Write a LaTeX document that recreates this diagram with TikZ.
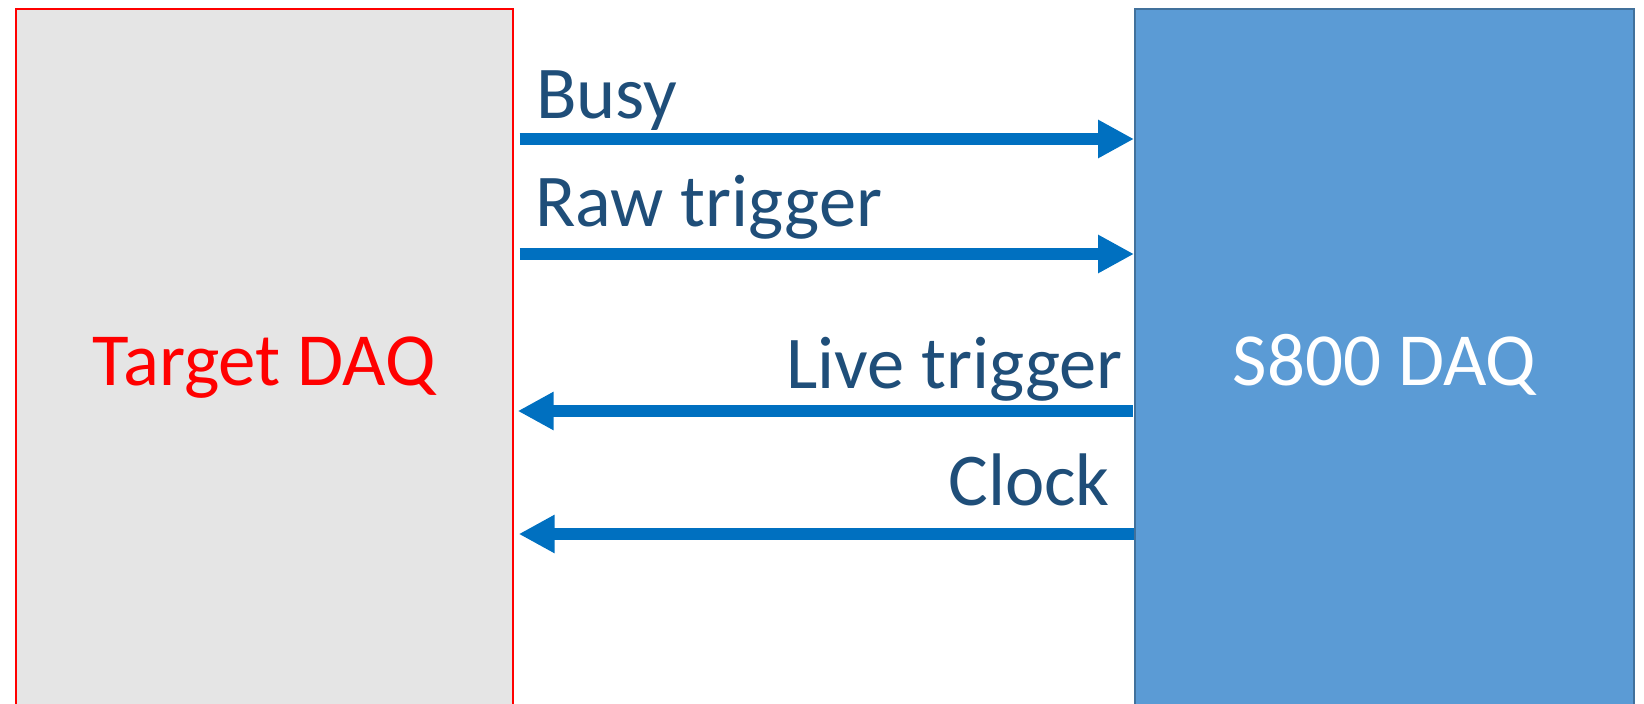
\documentclass[tikz,border=0pt]{standalone}
\usepackage{fontspec}
\setmainfont{Carlito}
\usetikzlibrary{arrows.meta}
\definecolor{boxgray}{HTML}{E5E5E5}
\definecolor{daqblue}{HTML}{5B9BD5}
\definecolor{daqedge}{HTML}{41719C}
\definecolor{wire}{HTML}{0070C0}
\definecolor{labelblue}{HTML}{1F4E79}
\begin{document}
\begin{tikzpicture}[x=1pt,y=-1pt,
  daqbox/.style={rectangle, anchor=north west, inner sep=0pt, line width=2pt, minimum height=730pt},
  sig/.style={draw=wire, line width=12pt, -{Triangle[length=36pt,width=36pt]}},
  siglabel/.style={inner sep=0pt, text=labelblue, font=\fontsize{74.5}{89}\selectfont},
  boxlabel/.style={inner sep=0pt, anchor=base, font=\fontsize{75}{90}\selectfont}]
\useasboundingbox (0,0) rectangle (1644,704);
% the two acquisition systems
\node[daqbox, draw=red, fill=boxgray, minimum width=497pt] (target) at (14.7,8.4) {};
\node[daqbox, draw=daqedge, fill=daqblue, minimum width=499pt] (s800) at (1134,8.4) {};
\node[boxlabel, text=red] (targetname) at (target.center |- 0,385) {Target DAQ};
\node[boxlabel, text=white] (s800name) at (s800.center |- 0,385) {S800 DAQ};
% signals towards the S800
\draw[sig, shorten <=6pt] (target.east |- 0,139) -- (s800.west |- 0,139);
\draw[sig, shorten <=6pt] (target.east |- 0,254) -- (s800.west |- 0,254);
% signals back to the target
\draw[sig, shorten <=1pt, shorten >=4pt] (s800.west |- 0,411) -- (target.east |- 0,411);
\draw[sig, shorten >=5pt] (s800.west |- 0,534) -- (target.east |- 0,534);
% signal names
\node[siglabel, anchor=base west] (busy) at (536,118) {Busy};
\node[siglabel, anchor=base west] (raw) at (535,226) {Raw trigger};
\node[siglabel, anchor=base east] (live) at (1123,388) {Live trigger};
\node[siglabel, anchor=base east] (clock) at (1110,505) {Clock};
\end{tikzpicture}
\end{document}
